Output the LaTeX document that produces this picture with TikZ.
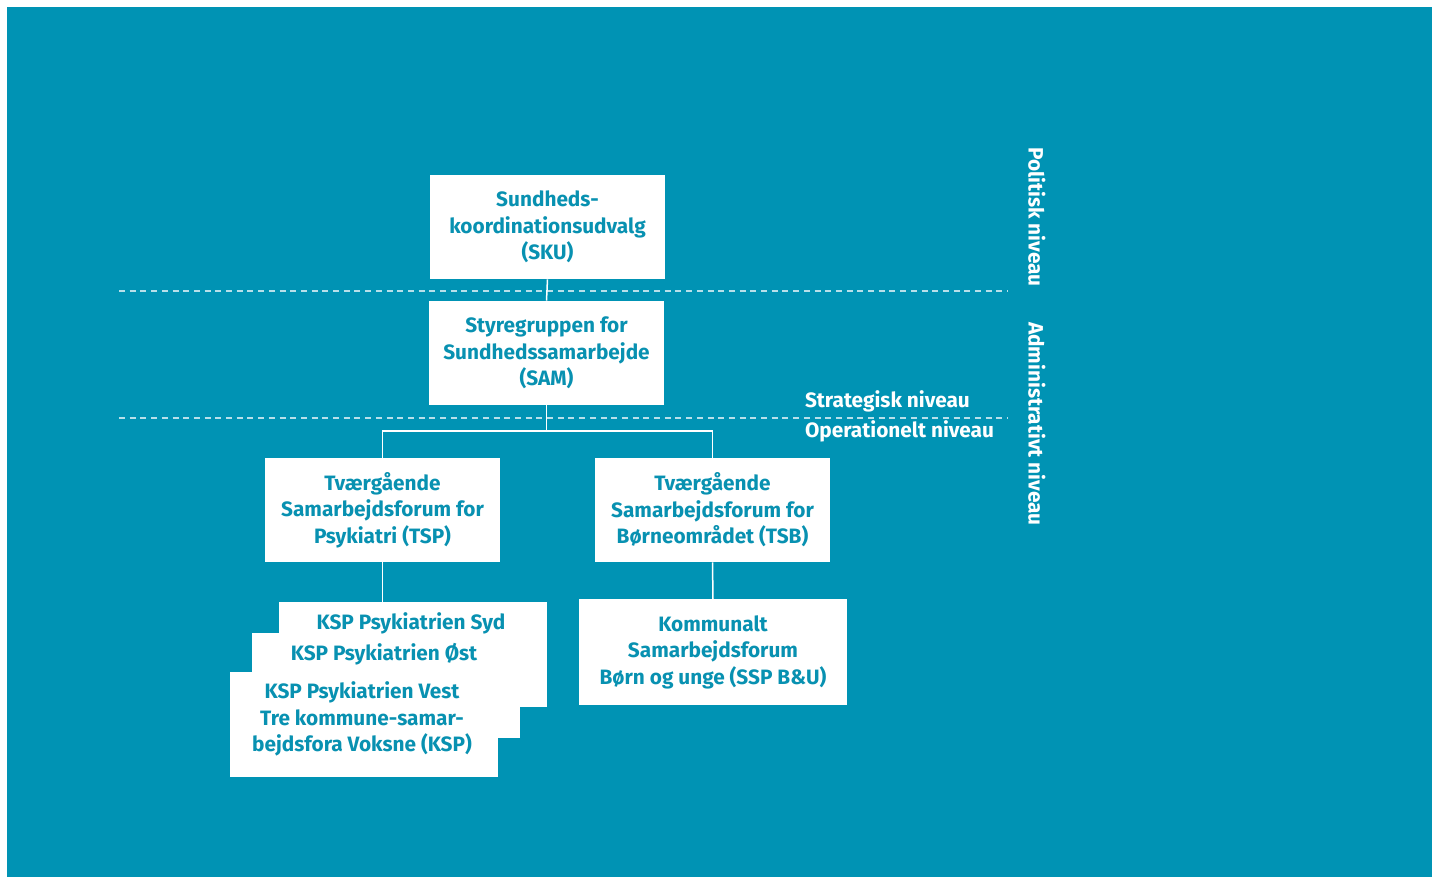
\documentclass[tikz,border=0pt]{standalone}
\usepackage{fontspec}
\setmainfont{Fira Sans}
\definecolor{bg}{HTML}{0093B4}
\definecolor{tx}{HTML}{0891B1}
\definecolor{dsh}{HTML}{B8E0EA}
\begin{document}
\begin{tikzpicture}[x=0.5pt,y=-0.5pt,
  txt/.style={font=\bfseries\fontsize{10.4}{13.25}\selectfont, align=center},
  box/.style={fill=white, draw=none, minimum width=117.5pt, minimum height=52pt, inner sep=0pt, txt, text=tx},
  wbox/.style={box, minimum width=134pt, minimum height=52.5pt},
  conn/.style={draw=white, line width=0.75pt},
  lvl/.style={draw=dsh, line width=1pt, dash pattern=on 3pt off 2.35pt},
  side/.style={txt, text=white}]
\useasboundingbox (0,0) rectangle (1432,877);
\fill[white] (0,0) rectangle (1432,877);
\fill[bg] (7,7) rectangle (1432,877);
% level lines
\coordinate (l1a) at (119,291); \coordinate (l1b) at (1008,291);
\coordinate (l2a) at (119,418); \coordinate (l2b) at (1008,418);
\draw[lvl] (l1a) -- (l1b);
\draw[lvl] (l2a) -- (l2b);
% nodes
\node[box] (sku) at (547.5,227) {Sundheds-\\koordinationsudvalg\\(SKU)};
\node[box] (sam) at (546.5,353) {Styregruppen for\\Sundhedssamarbejde\\(SAM)};
\node[box] (tsp) at (382.5,510) {Tværgående\\Samarbejdsforum for\\Psykiatri (TSP)};
\node[box] (tsb) at (712.5,510) {Tværgående\\Samarbejdsforum for\\Børneområdet (TSB)};
\node[wbox] (ssp) at (713,652) {Kommunalt\\Samarbejdsforum\\Børn og unge (SSP B\&U)};
\node[wbox] (syd) at (413,654.5) {};
\node[wbox] (ost) at (386,685.5) {};
\node[wbox] (vest) at (364,724.5) {};
\node[txt, text=tx] (sydt) at (411,623) {KSP Psykiatrien Syd};
\node[txt, text=tx] (ostt) at (384,654) {KSP Psykiatrien Øst};
\node[txt, text=tx] (vestt) at (362,719) {KSP Psykiatrien Vest\\Tre kommune-samar-\\bejdsfora Voksne (KSP)};
% connectors
\coordinate (j) at (546.5,431);
\draw[conn] (sku.south) -- (sam.north);
\draw[conn] (sam.south) -- (j);
\draw[conn] (j) -| (tsp.north);
\draw[conn] (j) -| (tsb.north);
\draw[conn] (tsp.south) -- (tsp.south |- syd.north);
\draw[conn] (tsb.south) -- (ssp.north);
% level labels
\node[side, anchor=west] (strat) at (798,401) {Strategisk niveau};
\node[side, anchor=west] (oper) at (798,431) {Operationelt niveau};
\node[side, rotate=-90] (pol) at (1037,217) {Politisk niveau};
\node[side, rotate=-90] (adm) at (1037,424) {Administrativt niveau};
\end{tikzpicture}
\end{document}
